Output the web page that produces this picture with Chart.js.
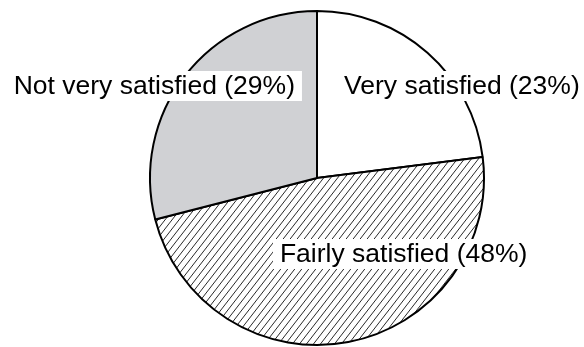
<!DOCTYPE html>
<html>
<head>
<meta charset="utf-8">
<script src="https://cdn.jsdelivr.net/npm/chart.js@4.4.1/dist/chart.umd.min.js"></script>
<style>
  html, body { margin: 0; padding: 0; background: #fff; }
  #wrap { width: 584px; height: 347px; position: relative; }
</style>
</head>
<body>
<div id="wrap"><canvas id="pie"></canvas></div>
<script>
// Satisfaction shares, clockwise from 12 o'clock
const categories = ['Very satisfied', 'Fairly satisfied', 'Not very satisfied'];
const shares = [23, 48, 29];

// Diagonal hatching used for the middle slice
function hatchPattern() {
  const c = document.createElement('canvas');
  const w = 7, h = 9;
  c.width = w; c.height = h;
  const g = c.getContext('2d');
  g.fillStyle = '#fff';
  g.fillRect(0, 0, w, h);
  g.strokeStyle = '#111';
  g.lineWidth = 0.9;
  g.beginPath();
  for (let k = -1; k <= 1; k++) {
    g.moveTo(k * w, h);
    g.lineTo(k * w + w, 0);
  }
  g.stroke();
  return g.createPattern(c, 'repeat');
}

// Label placement relative to the pie centre, in units of the radius
// (dy is the text baseline)
const labelSpots = [
  { dx: 0.162, dy: -0.503, align: 'left' },
  { dx: -0.222, dy: 0.503, align: 'left' },
  { dx: -0.132, dy: -0.503, align: 'right' }
];

const sliceLabels = {
  id: 'sliceLabels',
  afterDatasetsDraw(chart) {
    const ctx = chart.ctx;
    const arc = chart.getDatasetMeta(0).data[0];
    const cx = arc.x, cy = arc.y, r = arc.outerRadius;
    ctx.save();
    ctx.font = '26.5px "Liberation Sans", Arial, Helvetica, sans-serif';
    ctx.textBaseline = 'alphabetic';
    ctx.textAlign = 'left';
    categories.forEach((name, i) => {
      const text = name + ' (' + shares[i] + '%)';
      const s = labelSpots[i];
      const w = ctx.measureText(text).width;
      let x = cx + s.dx * r;
      if (s.align === 'right') x -= w;
      const y = cy + s.dy * r;
      ctx.fillStyle = '#fff';
      ctx.fillRect(x - 7, y - 23, w + 14, 30);
      ctx.fillStyle = '#000';
      ctx.fillText(text, x, y);
    });
    ctx.restore();
  }
};

new Chart(document.getElementById('pie'), {
  type: 'pie',
  data: {
    labels: categories,
    datasets: [{
      data: shares,
      backgroundColor: ['#ffffff', hatchPattern(), '#d0d1d4'],
      borderColor: '#000',
      borderWidth: 2
    }]
  },
  options: {
    responsive: true,
    maintainAspectRatio: false,
    animation: false,
    layout: { padding: { top: 10, bottom: 1, left: 50, right: 0 } },
    plugins: {
      legend: { display: false },
      tooltip: { enabled: false }
    }
  },
  plugins: [sliceLabels]
});
</script>
</body>
</html>
